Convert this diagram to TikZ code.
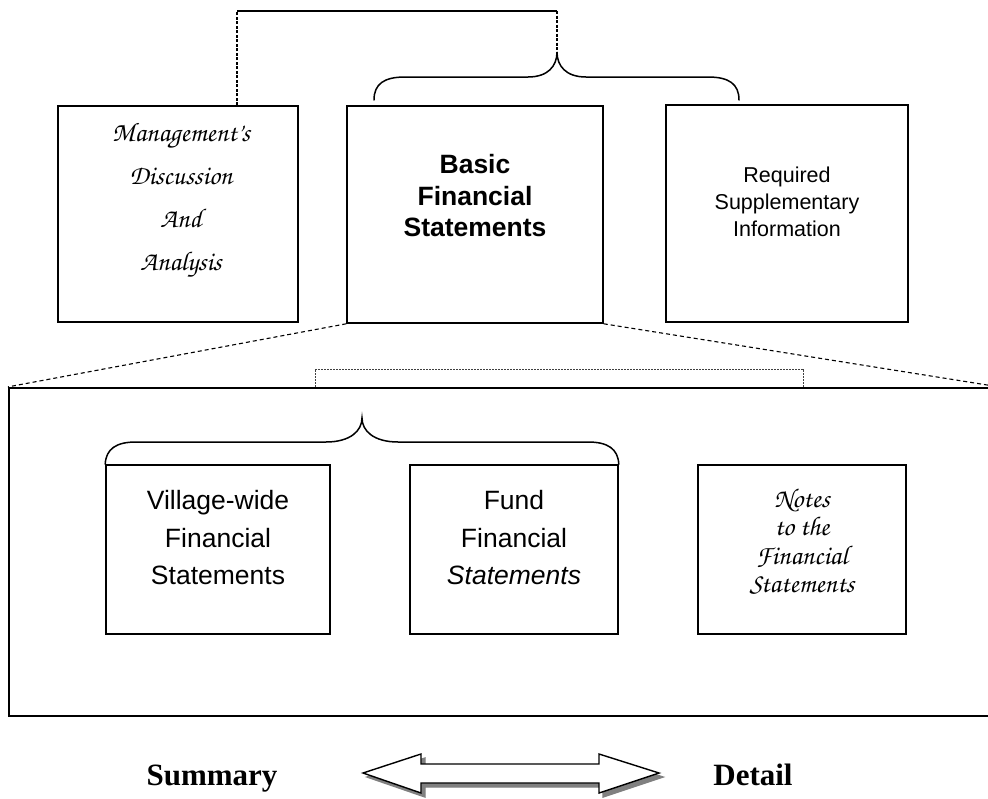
\documentclass[tikz,border=0pt]{standalone}
\usepackage{fontspec}
\setmainfont{Liberation Serif}
\newfontfamily\arialfont{Liberation Sans}
\newfontfamily\chancery{texgyrechorus-mediumitalic.otf}
\usetikzlibrary{calc,positioning}
\tikzset{
  box/.style={draw, line width=1.6pt, inner sep=0pt},
  bigbox/.style={draw, line width=2.2pt},
  txt/.style={align=center, inner sep=0pt},
  brace/.style={line width=1.5pt, line cap=round},
  fan/.style={line width=1.1pt, dash pattern=on 4pt off 3pt},
  linkline/.style={line width=1.3pt, dash pattern=on 3pt off 1.5pt},
  dotbox/.style={line width=1pt, black!75, dash pattern=on 2pt off 1pt},
  endtxt/.style={font=\bfseries\fontsize{31}{36}\selectfont, inner sep=0pt, anchor=base}
}

\begin{document}
\begin{tikzpicture}[x=1pt,y=-1pt]
  \useasboundingbox (0,0) rectangle (988,798);
  % top row
  \node[box, minimum width=240pt, minimum height=216pt] (mda) at (178,214) {};
  \node[box, minimum width=256pt, minimum height=217pt] (basic) at (475,214.5) {};
  \node[box, minimum width=242pt, minimum height=217pt] (rsi) at (787,213.5) {};
  \node[txt, font=\chancery\fontsize{27}{43}\selectfont] (mdatxt) at (181,200) {Management’s\\Discussion\\And\\Analysis};
  \node[txt, font=\arialfont\bfseries\fontsize{26.5}{31.5}\selectfont] (basictxt) at (475,196) {Basic\\Financial\\Statements};
  \node[txt, font=\arialfont\fontsize{21.5}{27}\selectfont] (rsitxt) at (787,202) {Required\\Supplementary\\Information};

  % bracket over the top row
  \coordinate (topL) at (mda.north -| 237,0);
  \coordinate (topR) at (557,11);
  \coordinate (toptip) at (557,52);
  \draw[linkline] (topL) -- (topL |- topR);
  \draw[line width=1.8pt] (topL |- topR) -- (topR);
  \draw[linkline] (topR) -- (toptip);
  \draw[brace] (374,100) .. controls (374,84) and (384,77) .. (405,77) -- (528,77)
    .. controls (548,77) and (557,66) .. (toptip)
    .. controls (557,66) and (566,77) .. (586,77) -- (708,77)
    .. controls (729,77) and (739,84) .. (739,100);

  % expanded view of the basic statements
  \node[bigbox, minimum width=989pt, minimum height=328pt] (big) at (503.5,552) {};
  \draw[fan] (basic.south west) -- (big.north west);
  \draw[fan] (basic.south east) -- (big.north east);
  \coordinate (dotL) at (315,369);
  \coordinate (dotR) at (803,369);
  \draw[dotbox] (dotL |- big.north) -- (dotL) -- (dotR) -- (dotR |- big.north);

  \node[box, minimum width=224pt, minimum height=169pt] (vill) at (218,549.5) {};
  \node[box, minimum width=208pt, minimum height=169pt] (fund) at (514,549.5) {};
  \node[box, minimum width=208pt, minimum height=169pt] (notes) at (802,549.5) {};
  \node[txt, font=\arialfont\fontsize{26.5}{37.5}\selectfont] (villtxt) at (218,538) {Village-wide\\Financial\\Statements};
  \node[txt, font=\arialfont\fontsize{26.5}{37.5}\selectfont] (fundtxt) at (514,538) {Fund\\Financial\\\textit{Statements}};
  \node[txt, font=\chancery\fontsize{27}{28.5}\selectfont] (notestxt) at (802,542) {Notes\\to the\\Financial\\Statements};

  % brace over the first two statements
  \draw[brace] (vill.north west) .. controls (106,449) and (116,442) .. (136,442) -- (326,442)
    .. controls (350,442) and (362,431) .. (362,418)
    .. controls (362,431) and (374,442) .. (398,442) -- (588,442)
    .. controls (608,442) and (618,449) .. (fund.north east);

  % summary to detail
  \node[endtxt] (summ) at (212,785) {Summary};
  \node[endtxt] (det) at (753,785) {Detail};
  \draw[fill=black!50, draw=black!50, line width=1.4pt, shift={(4,4)}]
    (363,773) -- (421,754) -- (421,764) -- (599,764) -- (599,754) -- (659,773)
    -- (599,793) -- (599,783) -- (421,783) -- (421,793) -- cycle;
  \draw[fill=white, line width=1.4pt, line join=miter]
    (363,773) -- (421,754) -- (421,764) -- (599,764) -- (599,754) -- (659,773)
    -- (599,793) -- (599,783) -- (421,783) -- (421,793) -- cycle;
\end{tikzpicture}
\end{document}
